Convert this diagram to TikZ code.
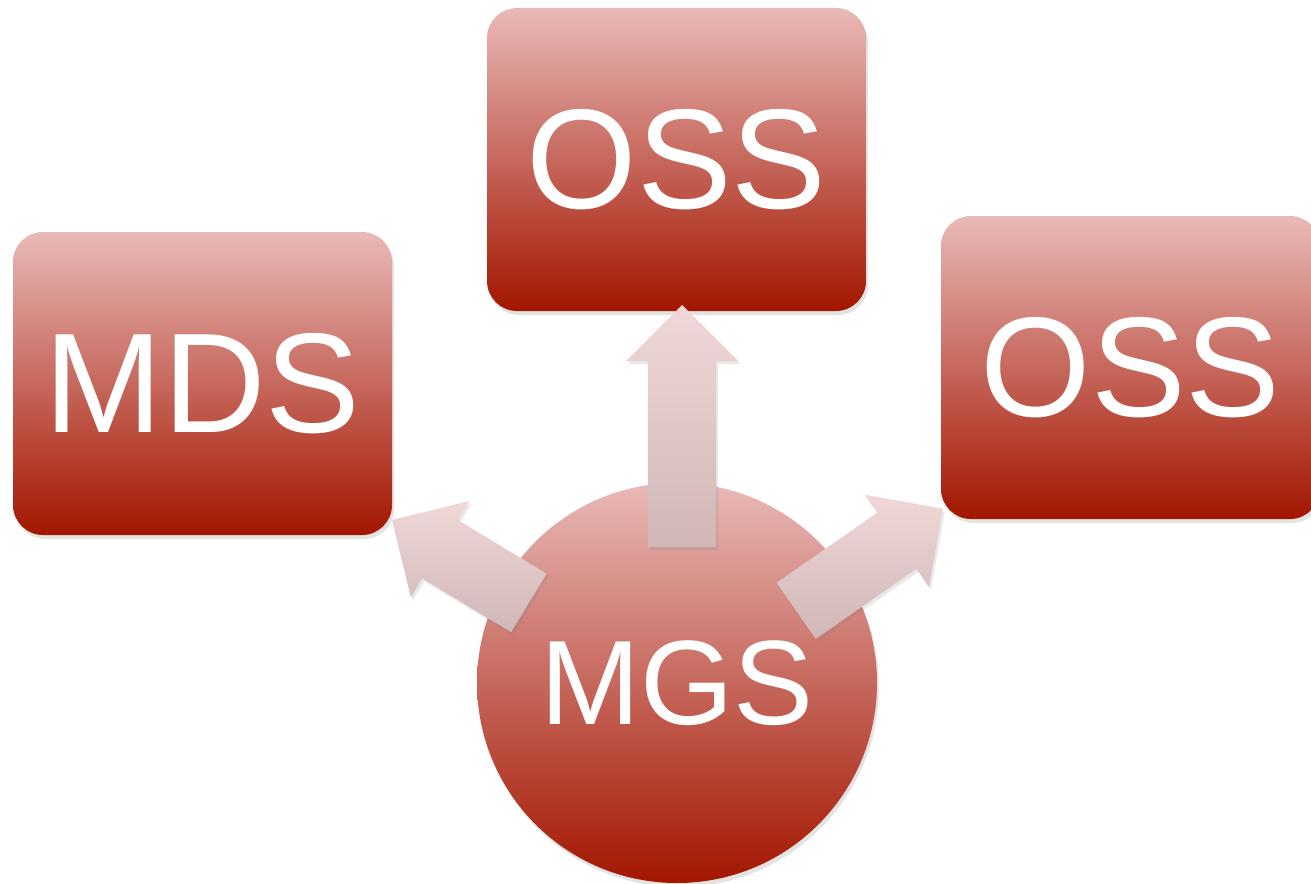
\documentclass[tikz,border=0pt]{standalone}
\usepackage{fontspec}
\setmainfont{Liberation Sans}
\usetikzlibrary{calc,shapes.arrows,shadows}
\definecolor{boxTop}{RGB}{233,185,184}
\definecolor{boxBottom}{RGB}{163,22,0}
\definecolor{arrowHead}{RGB}{240,216,217}
\definecolor{arrowTail}{RGB}{207,183,183}
\tikzset{every picture/.style={x=1pt,y=-1pt}}
\tikzstyle{server_box} =
  [ rectangle
  , rounded corners=30pt
  , minimum width=379pt
  , minimum height=303pt
  , inner sep=0pt
  , top color=boxTop
  , bottom color=boxBottom
  , text=white
  , drop shadow={shadow xshift=2pt, shadow yshift=-4pt, opacity=0.22}
  ]
\tikzstyle{mgs_disc} =
  [ circle
  , minimum size=400pt
  , inner sep=0pt
  , top color=boxTop
  , bottom color=boxBottom
  , text=white
  , drop shadow={shadow xshift=2pt, shadow yshift=-4pt, opacity=0.22}
  ]
\tikzstyle{push_arrow} =
  [ single arrow
  , single arrow tip angle=90
  , single arrow head extend=22pt
  , inner xsep=0pt
  , inner ysep=34pt
  , minimum width=0pt
  , sloped
  , allow upside down
  , pos=0
  , anchor=tail
  , top color=arrowHead
  , bottom color=arrowTail
  , drop shadow={shadow xshift=2pt, shadow yshift=-3pt, opacity=0.18}
  ]
\def\BoxFont{\fontsize{142}{142}\selectfont}
\def\DiscFont{\fontsize{120}{120}\selectfont}

\begin{document}
\begin{tikzpicture}
    \useasboundingbox (0,0) rectangle (1311,883);

    \node[mgs_disc,font=\DiscFont] (mgs) at (677,683) {MGS};

    \node[server_box,font=\BoxFont] (mds)     at (202.5,383.5)  {MDS};
    \node[server_box,font=\BoxFont] (oss_top) at (676.5,159.5)  {OSS};
    \node[server_box,font=\BoxFont] (oss_rgt) at (1130.5,367.5) {OSS};

    \coordinate (up_tail)  at ($(mgs.center)+(5,-136)$);
    \coordinate (up_tip)   at ($(oss_top.south)+(5.5,0)$);
    \coordinate (lft_tail) at ($(mgs.center)+(-148,-80)$);
    \coordinate (lft_tip)  at ($(mds.south east)+(5,-12)$);
    \coordinate (rgt_tail) at ($(mgs.center)+(119,-72)$);
    \coordinate (rgt_tip)  at ($(oss_rgt.south west)+(-3,-7)$);

    \path let \p1=($(up_tip)-(up_tail)$),   \n1={veclen(\x1,\y1)+6pt} in
      (up_tail)  -- node[push_arrow,minimum height=\n1] (up_arrow) {} (up_tip);
    \path let \p1=($(lft_tip)-(lft_tail)$), \n1={veclen(\x1,\y1)+6pt} in
      (lft_tail) -- node[push_arrow,minimum height=\n1] (lft_arrow) {} (lft_tip);
    \path let \p1=($(rgt_tip)-(rgt_tail)$), \n1={veclen(\x1,\y1)+6pt} in
      (rgt_tail) -- node[push_arrow,minimum height=\n1] (rgt_arrow) {} (rgt_tip);
  \end{tikzpicture}
\end{document}
